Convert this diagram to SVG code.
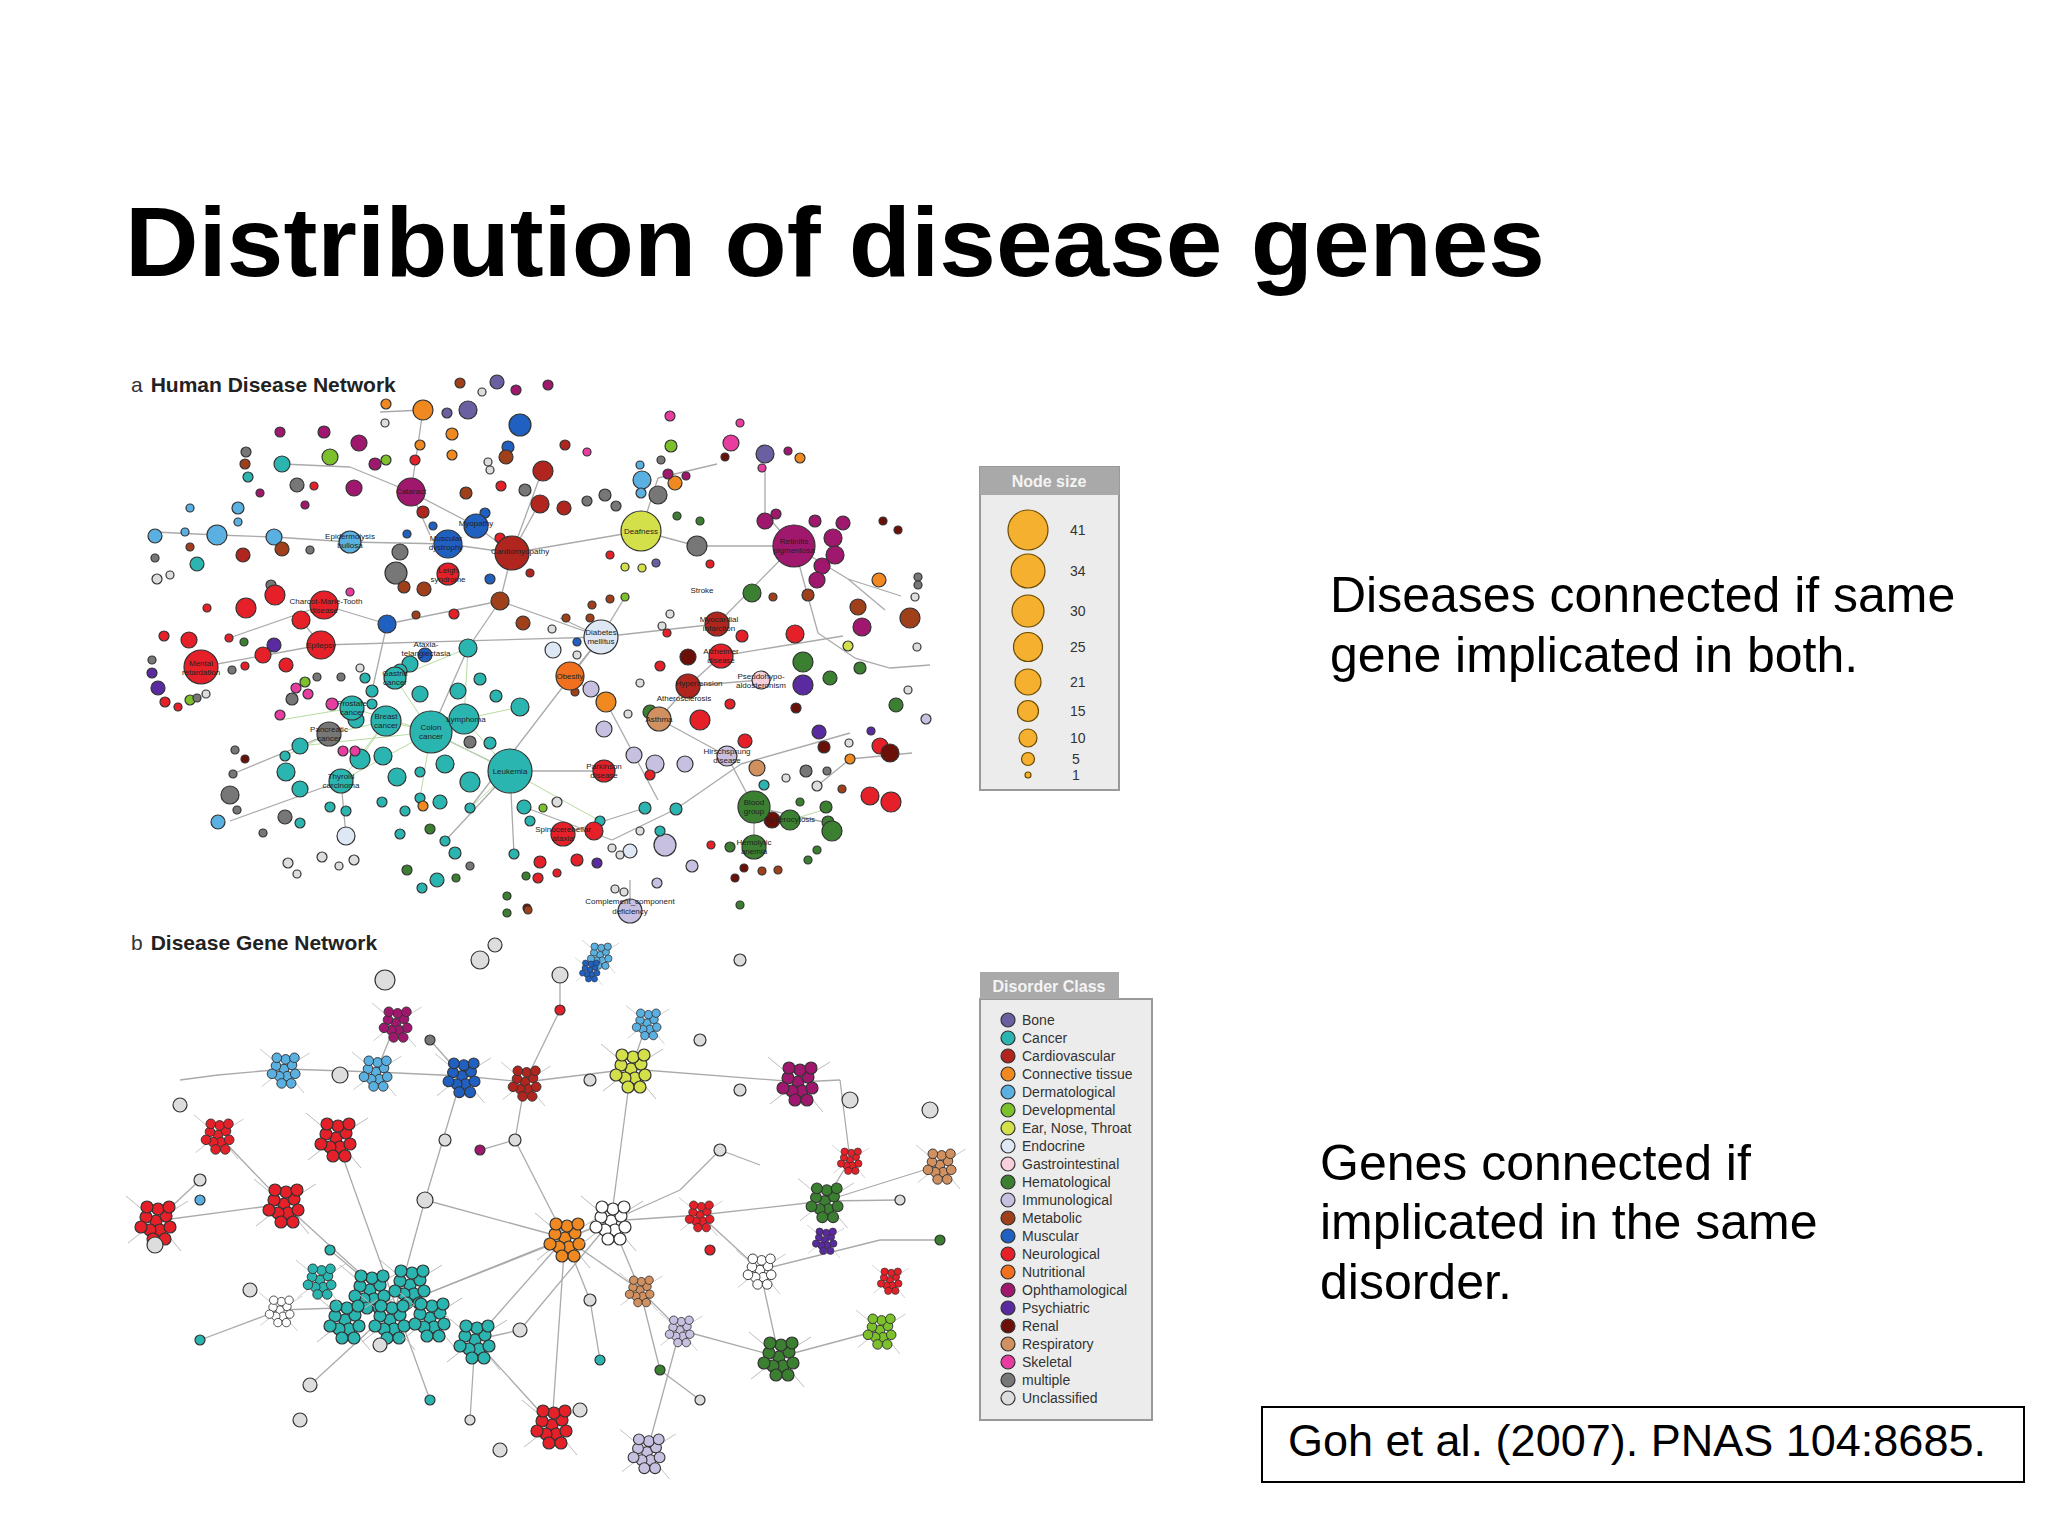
<svg xmlns="http://www.w3.org/2000/svg" xmlns:xlink="http://www.w3.org/1999/xlink" width="2048" height="1536" viewBox="0 0 2048 1536">
<style>
text{font-family:"Liberation Sans",Arial,sans-serif;fill:#000}
circle{stroke:#333;stroke-width:1.2}
.bone{fill:#6a5fa0}.can{fill:#2bb5b0}.cv{fill:#b0261e}.ct{fill:#f08a20}.derm{fill:#5ab0e0}.dev{fill:#7cc02c}.ent{fill:#d4e04a}.endo{fill:#dde8f4}.gi{fill:#f8d0dc}.hem{fill:#3a8030}.imm{fill:#c8c0e0}.met{fill:#a0401a}.mus{fill:#2060c0}.neu{fill:#e52028}.nut{fill:#f07020}.oph{fill:#a0176e}.psy{fill:#5a2aa0}.ren{fill:#6a1008}.resp{fill:#d09060}.skel{fill:#e83ca0}.mult{fill:#777}.unc{fill:#ddd}
.e line{stroke:#aaa;stroke-width:1.3}
.eg line{stroke:#b8dca0;stroke-width:1}
.nl{font-size:8px;fill:#222;text-anchor:middle}
.lg{font-size:14px;fill:#333}
.big{font-size:50px}
.sz{fill:#f5b030;stroke:#6a4a00}
</style>
<defs>
<g id="cl">
<line x1="0" y1="0" x2="-30" y2="-25" stroke="#bbb"/><line x1="0" y1="0" x2="32" y2="-20" stroke="#bbb"/><line x1="0" y1="0" x2="25" y2="30" stroke="#bbb"/><line x1="0" y1="0" x2="-28" y2="22" stroke="#bbb"/>
<circle cx="0" cy="0" r="6" fill="currentColor"/><circle cx="10" cy="-5" r="6" fill="currentColor"/><circle cx="-10" cy="-4" r="6" fill="currentColor"/><circle cx="4" cy="9" r="6" fill="currentColor"/><circle cx="-6" cy="9" r="6" fill="currentColor"/><circle cx="14" cy="6" r="6" fill="currentColor"/><circle cx="-15" cy="6" r="6" fill="currentColor"/><circle cx="2" cy="-12" r="6" fill="currentColor"/><circle cx="-9" cy="-14" r="6" fill="currentColor"/><circle cx="13" cy="-14" r="6" fill="currentColor"/><circle cx="-3" cy="18" r="6" fill="currentColor"/><circle cx="9" cy="18" r="6" fill="currentColor"/>
</g>
</defs>
<rect width="2048" height="1536" fill="#fff"/>
<text x="125" y="276" font-size="98" font-weight="bold" textLength="1420" lengthAdjust="spacingAndGlyphs">Distribution of disease genes</text>

<text x="131" y="392" font-size="21"><tspan fill="#333">a</tspan><tspan dx="8" font-weight="bold" fill="#222">Human Disease Network</tspan></text>
<text x="131" y="950" font-size="21"><tspan fill="#333">b</tspan><tspan dx="8" font-weight="bold" fill="#222">Disease Gene Network</tspan></text>

<g id="connectors-a" class="e">
<line x1="411" y1="492" x2="476" y2="526"/><line x1="476" y1="526" x2="512" y2="553"/><line x1="448" y1="544" x2="512" y2="553"/><line x1="512" y1="553" x2="641" y2="531"/><line x1="641" y1="531" x2="697" y2="546"/><line x1="697" y1="546" x2="794" y2="546"/><line x1="512" y1="553" x2="500" y2="601"/><line x1="500" y1="601" x2="601" y2="637"/><line x1="500" y1="601" x2="387" y2="624"/><line x1="387" y1="624" x2="324" y2="605"/><line x1="321" y1="645" x2="601" y2="637"/><line x1="601" y1="637" x2="717" y2="624"/><line x1="601" y1="637" x2="570" y2="676"/><line x1="717" y1="624" x2="794" y2="546"/><line x1="510" y1="771" x2="431" y2="732"/><line x1="510" y1="771" x2="604" y2="771"/><line x1="500" y1="601" x2="468" y2="648"/><line x1="350" y1="542" x2="448" y2="544"/><line x1="201" y1="667" x2="321" y2="645"/><line x1="721" y1="656" x2="688" y2="686"/><line x1="688" y1="686" x2="659" y2="719"/><line x1="659" y1="719" x2="727" y2="756"/><line x1="727" y1="756" x2="754" y2="807"/><line x1="754" y1="807" x2="790" y2="820"/><line x1="754" y1="807" x2="754" y2="847"/><line x1="563" y1="834" x2="645" y2="808"/><line x1="630" y1="911" x2="630" y2="880"/><line x1="601" y1="637" x2="470" y2="808"/><line x1="570" y1="676" x2="606" y2="702"/><line x1="606" y1="702" x2="658" y2="800"/><line x1="387" y1="624" x2="372" y2="691"/><line x1="794" y1="546" x2="818" y2="633"/><line x1="818" y1="633" x2="855" y2="658"/><line x1="721" y1="656" x2="843" y2="636"/><line x1="741" y1="764" x2="850" y2="733"/><line x1="524" y1="807" x2="612" y2="840"/><line x1="612" y1="840" x2="676" y2="809"/><line x1="676" y1="809" x2="741" y2="764"/><line x1="217" y1="535" x2="274" y2="537"/><line x1="274" y1="537" x2="350" y2="542"/><line x1="155" y1="532" x2="217" y2="535"/><line x1="282" y1="464" x2="350" y2="467"/><line x1="350" y1="467" x2="411" y2="492"/><line x1="380" y1="412" x2="423" y2="410"/><line x1="423" y1="410" x2="411" y2="492"/><line x1="542" y1="471" x2="512" y2="553"/><line x1="641" y1="531" x2="658" y2="478"/><line x1="658" y1="478" x2="717" y2="464"/><line x1="794" y1="546" x2="765" y2="514"/><line x1="765" y1="514" x2="765" y2="470"/><line x1="794" y1="546" x2="848" y2="579"/><line x1="229" y1="638" x2="324" y2="605"/><line x1="301" y1="620" x2="321" y2="645"/><line x1="329" y1="734" x2="230" y2="775"/><line x1="341" y1="781" x2="230" y2="821"/><line x1="341" y1="781" x2="346" y2="836"/><line x1="510" y1="771" x2="514" y2="854"/><line x1="510" y1="771" x2="445" y2="841"/><line x1="431" y1="732" x2="468" y2="648"/><line x1="601" y1="637" x2="560" y2="618"/><line x1="601" y1="637" x2="625" y2="597"/><line x1="688" y1="686" x2="761" y2="680"/><line x1="754" y1="807" x2="824" y2="822"/><line x1="430" y1="535" x2="411" y2="492"/><line x1="512" y1="553" x2="540" y2="502"/><line x1="817" y1="786" x2="850" y2="759"/><line x1="912" y1="753" x2="850" y2="759"/><line x1="885" y1="610" x2="848" y2="579"/><line x1="901" y1="596" x2="848" y2="579"/><line x1="890" y1="668" x2="855" y2="658"/><line x1="930" y1="665" x2="890" y2="668"/>
</g>
<g id="connectors-a-green" class="eg">
<line x1="431" y1="732" x2="386" y2="721"/><line x1="431" y1="732" x2="464" y2="719"/><line x1="431" y1="732" x2="352" y2="708"/><line x1="431" y1="732" x2="395" y2="678"/><line x1="431" y1="732" x2="341" y2="781"/><line x1="431" y1="732" x2="510" y2="771"/><line x1="464" y1="719" x2="510" y2="771"/><line x1="386" y1="721" x2="341" y2="781"/><line x1="386" y1="721" x2="329" y2="734"/><line x1="464" y1="719" x2="468" y2="648"/><line x1="395" y1="678" x2="468" y2="648"/><line x1="329" y1="734" x2="285" y2="756"/><line x1="510" y1="771" x2="470" y2="808"/><line x1="510" y1="771" x2="600" y2="821"/><line x1="431" y1="732" x2="300" y2="746"/><line x1="352" y1="708" x2="280" y2="720"/><line x1="431" y1="732" x2="420" y2="798"/><line x1="386" y1="721" x2="360" y2="759"/><line x1="464" y1="719" x2="520" y2="707"/><line x1="790" y1="820" x2="830" y2="808"/>
</g>

<g id="network-a">
<g id="n-small">
<circle class="met" cx="460" cy="383" r="5"/><circle class="bone" cx="497" cy="382" r="7"/><circle class="oph" cx="516" cy="390" r="5"/><circle class="unc" cx="482" cy="392" r="4"/><circle class="ct" cx="423" cy="410" r="10"/><circle class="bone" cx="468" cy="410" r="9"/><circle class="bone" cx="447" cy="413" r="5"/><circle class="oph" cx="548" cy="385" r="5"/><circle class="ct" cx="386" cy="404" r="5"/><circle class="ct" cx="452" cy="434" r="6"/><circle class="ct" cx="420" cy="445" r="5"/><circle class="ct" cx="452" cy="455" r="5"/><circle class="unc" cx="385" cy="423" r="4"/><circle class="mus" cx="520" cy="425" r="11"/><circle class="mus" cx="508" cy="447" r="6"/><circle class="met" cx="506" cy="457" r="7"/><circle class="unc" cx="488" cy="462" r="4"/><circle class="cv" cx="543" cy="471" r="10"/><circle class="cv" cx="565" cy="445" r="5"/><circle class="skel" cx="587" cy="452" r="4"/><circle class="neu" cx="501" cy="486" r="5"/><circle class="mult" cx="525" cy="490" r="6"/><circle class="cv" cx="540" cy="504" r="9"/><circle class="cv" cx="564" cy="508" r="7"/><circle class="met" cx="466" cy="493" r="6"/><circle class="oph" cx="280" cy="432" r="5"/><circle class="oph" cx="324" cy="432" r="6"/><circle class="oph" cx="359" cy="443" r="8"/><circle class="can" cx="282" cy="464" r="8"/><circle class="dev" cx="330" cy="457" r="8"/><circle class="mult" cx="246" cy="452" r="5"/><circle class="met" cx="245" cy="464" r="5"/><circle class="can" cx="248" cy="477" r="5"/><circle class="oph" cx="375" cy="464" r="6"/><circle class="dev" cx="386" cy="460" r="5"/><circle class="mult" cx="297" cy="485" r="7"/><circle class="oph" cx="354" cy="488" r="8"/><circle class="oph" cx="260" cy="493" r="4"/><circle class="neu" cx="314" cy="486" r="4"/><circle class="oph" cx="305" cy="505" r="4"/><circle class="derm" cx="190" cy="508" r="4"/><circle class="derm" cx="238" cy="508" r="6"/><circle class="derm" cx="217" cy="535" r="10"/><circle class="derm" cx="155" cy="536" r="7"/><circle class="derm" cx="274" cy="537" r="8"/><circle class="derm" cx="238" cy="522" r="4"/><circle class="derm" cx="185" cy="532" r="4"/><circle class="met" cx="190" cy="547" r="4"/><circle class="cv" cx="243" cy="555" r="7"/><circle class="met" cx="282" cy="549" r="7"/><circle class="mult" cx="310" cy="550" r="4"/><circle class="can" cx="197" cy="564" r="7"/><circle class="mult" cx="155" cy="558" r="4"/><circle class="unc" cx="157" cy="579" r="5"/><circle class="unc" cx="170" cy="575" r="4"/><circle class="mult" cx="400" cy="552" r="8"/><circle class="mult" cx="396" cy="573" r="11"/><circle class="met" cx="404" cy="587" r="6"/><circle class="met" cx="424" cy="589" r="7"/><circle class="mus" cx="490" cy="579" r="5"/><circle class="neu" cx="500" cy="538" r="5"/><circle class="cv" cx="530" cy="573" r="4"/><circle class="mult" cx="271" cy="585" r="5"/><circle class="neu" cx="275" cy="595" r="10"/><circle class="neu" cx="246" cy="608" r="10"/><circle class="neu" cx="301" cy="620" r="9"/><circle class="neu" cx="207" cy="608" r="4"/><circle class="skel" cx="350" cy="592" r="4"/><circle class="mus" cx="387" cy="624" r="9"/><circle class="met" cx="500" cy="601" r="9"/><circle class="met" cx="523" cy="623" r="7"/><circle class="neu" cx="454" cy="614" r="5"/><circle class="met" cx="416" cy="615" r="4"/><circle class="neu" cx="164" cy="636" r="5"/><circle class="neu" cx="189" cy="640" r="8"/><circle class="neu" cx="229" cy="638" r="4"/><circle class="hem" cx="244" cy="642" r="4"/><circle class="psy" cx="274" cy="645" r="7"/><circle class="neu" cx="263" cy="655" r="8"/><circle class="neu" cx="286" cy="665" r="7"/><circle class="mult" cx="152" cy="660" r="4"/><circle class="psy" cx="152" cy="673" r="5"/><circle class="psy" cx="158" cy="688" r="7"/><circle class="neu" cx="165" cy="702" r="5"/><circle class="dev" cx="190" cy="700" r="5"/><circle class="mult" cx="197" cy="698" r="4"/><circle class="unc" cx="206" cy="694" r="4"/><circle class="neu" cx="178" cy="707" r="4"/><circle class="mult" cx="232" cy="670" r="4"/><circle class="neu" cx="245" cy="666" r="4"/><circle class="mus" cx="425" cy="655" r="7"/><circle class="can" cx="410" cy="664" r="8"/><circle class="can" cx="365" cy="678" r="5"/><circle class="unc" cx="360" cy="668" r="4"/><circle class="mult" cx="317" cy="677" r="4"/><circle class="mult" cx="341" cy="677" r="4"/><circle class="dev" cx="305" cy="682" r="5"/><circle class="skel" cx="296" cy="688" r="5"/><circle class="skel" cx="308" cy="694" r="5"/><circle class="mult" cx="292" cy="699" r="6"/><circle class="skel" cx="332" cy="704" r="6"/><circle class="skel" cx="280" cy="715" r="5"/><circle class="can" cx="300" cy="746" r="8"/><circle class="can" cx="285" cy="756" r="5"/><circle class="can" cx="286" cy="772" r="9"/><circle class="can" cx="300" cy="789" r="8"/><circle class="mult" cx="235" cy="750" r="4"/><circle class="ren" cx="245" cy="759" r="4"/><circle class="mult" cx="233" cy="774" r="4"/><circle class="mult" cx="230" cy="795" r="9"/><circle class="mult" cx="237" cy="810" r="4"/><circle class="derm" cx="218" cy="822" r="7"/><circle class="can" cx="330" cy="807" r="5"/><circle class="can" cx="346" cy="811" r="5"/><circle class="mult" cx="285" cy="817" r="7"/><circle class="mult" cx="263" cy="833" r="4"/><circle class="can" cx="300" cy="823" r="5"/><circle class="endo" cx="346" cy="836" r="9"/><circle class="unc" cx="288" cy="863" r="5"/><circle class="unc" cx="322" cy="857" r="5"/><circle class="unc" cx="297" cy="874" r="4"/><circle class="unc" cx="339" cy="866" r="4"/><circle class="unc" cx="354" cy="860" r="5"/><circle class="can" cx="400" cy="671" r="7"/><circle class="can" cx="420" cy="694" r="8"/><circle class="can" cx="458" cy="691" r="8"/><circle class="can" cx="480" cy="679" r="6"/><circle class="can" cx="496" cy="696" r="6"/><circle class="can" cx="520" cy="707" r="9"/><circle class="can" cx="383" cy="756" r="9"/><circle class="can" cx="397" cy="777" r="9"/><circle class="can" cx="420" cy="772" r="5"/><circle class="can" cx="445" cy="764" r="9"/><circle class="can" cx="470" cy="782" r="10"/><circle class="mult" cx="470" cy="742" r="6"/><circle class="can" cx="470" cy="808" r="5"/><circle class="can" cx="490" cy="743" r="6"/><circle class="can" cx="420" cy="798" r="5"/><circle class="can" cx="405" cy="811" r="5"/><circle class="can" cx="440" cy="802" r="7"/><circle class="ct" cx="423" cy="806" r="5"/><circle class="can" cx="360" cy="759" r="10"/><circle class="can" cx="356" cy="720" r="8"/><circle class="can" cx="372" cy="704" r="5"/><circle class="can" cx="372" cy="691" r="6"/><circle class="skel" cx="343" cy="751" r="5"/><circle class="skel" cx="355" cy="751" r="5"/><circle class="can" cx="382" cy="802" r="5"/><circle class="hem" cx="430" cy="829" r="5"/><circle class="can" cx="445" cy="841" r="5"/><circle class="can" cx="455" cy="853" r="6"/><circle class="can" cx="400" cy="834" r="5"/><circle class="hem" cx="407" cy="870" r="5"/><circle class="can" cx="422" cy="888" r="5"/><circle class="can" cx="437" cy="880" r="7"/><circle class="hem" cx="456" cy="878" r="4"/><circle class="mult" cx="470" cy="866" r="4"/><circle class="hem" cx="507" cy="896" r="4"/><circle class="ren" cx="527" cy="908" r="4"/><circle class="can" cx="514" cy="854" r="5"/><circle class="can" cx="530" cy="821" r="5"/><circle class="can" cx="524" cy="807" r="7"/><circle class="dev" cx="543" cy="808" r="4"/><circle class="unc" cx="557" cy="802" r="5"/><circle class="can" cx="600" cy="821" r="5"/><circle class="neu" cx="594" cy="831" r="9"/><circle class="neu" cx="540" cy="862" r="6"/><circle class="neu" cx="577" cy="860" r="6"/><circle class="psy" cx="597" cy="863" r="5"/><circle class="neu" cx="538" cy="878" r="5"/><circle class="neu" cx="557" cy="873" r="4"/><circle class="endo" cx="630" cy="851" r="7"/><circle class="imm" cx="665" cy="845" r="11"/><circle class="imm" cx="692" cy="866" r="6"/><circle class="unc" cx="612" cy="848" r="4"/><circle class="unc" cx="620" cy="855" r="4"/><circle class="imm" cx="657" cy="883" r="5"/><circle class="can" cx="645" cy="808" r="6"/><circle class="can" cx="676" cy="809" r="6"/><circle class="can" cx="660" cy="831" r="5"/><circle class="unc" cx="640" cy="831" r="4"/><circle class="hem" cx="650" cy="712" r="7"/><circle class="imm" cx="655" cy="764" r="9"/><circle class="imm" cx="685" cy="764" r="8"/><circle class="imm" cx="634" cy="755" r="8"/><circle class="neu" cx="650" cy="775" r="5"/><circle class="resp" cx="757" cy="768" r="8"/><circle class="neu" cx="745" cy="741" r="7"/><circle class="unc" cx="817" cy="786" r="5"/><circle class="ct" cx="606" cy="702" r="10"/><circle class="imm" cx="604" cy="729" r="8"/><circle class="imm" cx="591" cy="689" r="8"/><circle class="unc" cx="628" cy="714" r="4"/><circle class="neu" cx="700" cy="720" r="10"/><circle class="neu" cx="730" cy="704" r="5"/><circle class="ren" cx="688" cy="657" r="8"/><circle class="neu" cx="660" cy="666" r="5"/><circle class="neu" cx="667" cy="633" r="4"/><circle class="neu" cx="742" cy="636" r="6"/><circle class="unc" cx="662" cy="626" r="4"/><circle class="unc" cx="670" cy="614" r="4"/><circle class="ren" cx="796" cy="708" r="5"/><circle class="unc" cx="640" cy="683" r="4"/><circle class="endo" cx="553" cy="650" r="8"/><circle class="unc" cx="577" cy="655" r="4"/><circle class="met" cx="590" cy="618" r="4"/><circle class="met" cx="566" cy="618" r="4"/><circle class="met" cx="592" cy="605" r="4"/><circle class="dev" cx="625" cy="597" r="4"/><circle class="met" cx="610" cy="599" r="4"/><circle class="unc" cx="552" cy="629" r="4"/><circle class="mus" cx="577" cy="642" r="4"/><circle class="met" cx="575" cy="692" r="4"/><circle class="cv" cx="423" cy="512" r="6"/><circle class="mus" cx="485" cy="513" r="5"/><circle class="mus" cx="433" cy="526" r="4"/><circle class="mus" cx="407" cy="534" r="4"/><circle class="neu" cx="415" cy="460" r="5"/><circle class="unc" cx="490" cy="470" r="4"/><circle class="derm" cx="642" cy="480" r="9"/><circle class="derm" cx="641" cy="493" r="5"/><circle class="mult" cx="605" cy="495" r="6"/><circle class="mult" cx="587" cy="501" r="5"/><circle class="mult" cx="616" cy="506" r="5"/><circle class="mult" cx="658" cy="495" r="9"/><circle class="ct" cx="675" cy="483" r="7"/><circle class="oph" cx="668" cy="474" r="5"/><circle class="oph" cx="686" cy="476" r="4"/><circle class="skel" cx="670" cy="416" r="5"/><circle class="dev" cx="671" cy="446" r="6"/><circle class="mult" cx="661" cy="460" r="4"/><circle class="derm" cx="640" cy="465" r="4"/><circle class="skel" cx="731" cy="443" r="8"/><circle class="bone" cx="765" cy="454" r="9"/><circle class="ct" cx="800" cy="458" r="5"/><circle class="oph" cx="788" cy="451" r="4"/><circle class="skel" cx="762" cy="468" r="4"/><circle class="skel" cx="740" cy="423" r="4"/><circle class="ren" cx="725" cy="457" r="4"/><circle class="mult" cx="697" cy="546" r="10"/><circle class="hem" cx="677" cy="516" r="4"/><circle class="hem" cx="700" cy="521" r="4"/><circle class="neu" cx="710" cy="564" r="4"/><circle class="neu" cx="610" cy="555" r="4"/><circle class="ent" cx="625" cy="567" r="4"/><circle class="ent" cx="642" cy="568" r="4"/><circle class="bone" cx="656" cy="563" r="4"/><circle class="oph" cx="765" cy="521" r="8"/><circle class="oph" cx="776" cy="514" r="5"/><circle class="oph" cx="815" cy="521" r="6"/><circle class="oph" cx="843" cy="523" r="7"/><circle class="oph" cx="833" cy="538" r="9"/><circle class="oph" cx="835" cy="555" r="9"/><circle class="oph" cx="822" cy="566" r="8"/><circle class="oph" cx="817" cy="580" r="8"/><circle class="ren" cx="883" cy="521" r="4"/><circle class="ren" cx="898" cy="530" r="4"/><circle class="hem" cx="752" cy="593" r="9"/><circle class="met" cx="773" cy="597" r="4"/><circle class="ct" cx="879" cy="580" r="7"/><circle class="mult" cx="918" cy="577" r="4"/><circle class="mult" cx="918" cy="585" r="4"/><circle class="unc" cx="915" cy="597" r="4"/><circle class="met" cx="808" cy="595" r="6"/><circle class="met" cx="858" cy="607" r="8"/><circle class="oph" cx="862" cy="627" r="9"/><circle class="met" cx="910" cy="618" r="10"/><circle class="neu" cx="795" cy="634" r="9"/><circle class="hem" cx="803" cy="662" r="10"/><circle class="psy" cx="803" cy="685" r="10"/><circle class="hem" cx="830" cy="678" r="7"/><circle class="hem" cx="860" cy="668" r="6"/><circle class="hem" cx="896" cy="705" r="7"/><circle class="ent" cx="848" cy="646" r="5"/><circle class="unc" cx="917" cy="647" r="4"/><circle class="unc" cx="908" cy="690" r="4"/><circle class="imm" cx="926" cy="719" r="5"/><circle class="psy" cx="819" cy="732" r="7"/><circle class="psy" cx="871" cy="731" r="4"/><circle class="unc" cx="849" cy="743" r="4"/><circle class="neu" cx="880" cy="746" r="8"/><circle class="ren" cx="890" cy="753" r="9"/><circle class="ren" cx="824" cy="747" r="6"/><circle class="mult" cx="806" cy="771" r="6"/><circle class="ct" cx="850" cy="759" r="5"/><circle class="can" cx="764" cy="785" r="5"/><circle class="hem" cx="800" cy="802" r="4"/><circle class="hem" cx="826" cy="807" r="6"/><circle class="hem" cx="828" cy="822" r="6"/><circle class="hem" cx="817" cy="850" r="4"/><circle class="hem" cx="832" cy="831" r="10"/><circle class="ren" cx="772" cy="820" r="8"/><circle class="hem" cx="730" cy="847" r="5"/><circle class="neu" cx="711" cy="845" r="4"/><circle class="ren" cx="744" cy="868" r="4"/><circle class="met" cx="762" cy="871" r="4"/><circle class="ren" cx="735" cy="878" r="4"/><circle class="met" cx="778" cy="870" r="4"/><circle class="hem" cx="808" cy="860" r="4"/><circle class="mult" cx="827" cy="771" r="4"/><circle class="neu" cx="870" cy="796" r="9"/><circle class="neu" cx="891" cy="802" r="10"/><circle class="met" cx="842" cy="789" r="4"/><circle class="unc" cx="786" cy="778" r="4"/><circle class="hem" cx="740" cy="905" r="4"/><circle class="unc" cx="624" cy="892" r="4"/><circle class="unc" cx="615" cy="889" r="4"/><circle class="hem" cx="507" cy="913" r="4"/><circle class="met" cx="528" cy="910" r="4"/><circle class="hem" cx="526" cy="876" r="4"/>
</g>
<g id="n-hubs">
<circle class="oph" cx="411" cy="492" r="14"/><circle class="ent" cx="641" cy="531" r="20"/><circle class="cv" cx="512" cy="553" r="17"/><circle class="mus" cx="448" cy="544" r="14"/><circle class="mus" cx="476" cy="526" r="12"/><circle class="neu" cx="448" cy="574" r="11"/><circle class="derm" cx="350" cy="542" r="11"/><circle class="oph" cx="794" cy="546" r="21"/><circle class="neu" cx="324" cy="605" r="14"/><circle class="neu" cx="321" cy="645" r="14"/><circle class="neu" cx="201" cy="667" r="17"/><circle class="endo" cx="601" cy="637" r="17"/><circle class="nut" cx="570" cy="676" r="14"/><circle class="cv" cx="717" cy="624" r="12"/><circle class="neu" cx="721" cy="656" r="12"/><circle class="cv" cx="688" cy="686" r="12"/><circle class="gi" cx="761" cy="680" r="9"/><circle class="resp" cx="659" cy="719" r="12"/><circle class="can" cx="395" cy="678" r="11"/><circle class="can" cx="352" cy="708" r="12"/><circle class="can" cx="386" cy="721" r="15"/><circle class="can" cx="431" cy="732" r="21"/><circle class="can" cx="464" cy="719" r="15"/><circle class="mult" cx="329" cy="734" r="12"/><circle class="can" cx="510" cy="771" r="22"/><circle class="can" cx="341" cy="781" r="12"/><circle class="neu" cx="604" cy="771" r="11"/><circle class="imm" cx="727" cy="756" r="10"/><circle class="hem" cx="754" cy="807" r="16"/><circle class="hem" cx="790" cy="820" r="10"/><circle class="hem" cx="754" cy="847" r="12"/><circle class="neu" cx="563" cy="834" r="12"/><circle class="imm" cx="630" cy="911" r="12"/><circle class="can" cx="468" cy="648" r="9"/>
</g>
<g id="n-labels">
<text class="nl" x="411" y="494">Cataract</text><text class="nl" x="641" y="534">Deafness</text><text class="nl" x="520" y="554">Cardiomyopathy</text><text class="nl" x="446" y="541">Muscular</text><text class="nl" x="446" y="550">dystrophy</text><text class="nl" x="476" y="526">Myopathy</text><text class="nl" x="448" y="573">Leigh</text><text class="nl" x="448" y="582">syndrome</text><text class="nl" x="350" y="539">Epidermolysis</text><text class="nl" x="350" y="548">bullosa</text><text class="nl" x="794" y="544">Retinitis</text><text class="nl" x="794" y="553">pigmentosa</text><text class="nl" x="326" y="604">Charcot-Marie-Tooth</text><text class="nl" x="324" y="613">disease</text><text class="nl" x="321" y="648">Epilepsy</text><text class="nl" x="201" y="666">Mental</text><text class="nl" x="201" y="675">retardation</text><text class="nl" x="601" y="635">Diabetes</text><text class="nl" x="601" y="644">mellitus</text><text class="nl" x="570" y="679">Obesity</text><text class="nl" x="719" y="622">Myocardial</text><text class="nl" x="719" y="631">infarction</text><text class="nl" x="721" y="654">Alzheimer</text><text class="nl" x="721" y="663">disease</text><text class="nl" x="699" y="686">Hypertension</text><text class="nl" x="684" y="701">Atherosclerosis</text><text class="nl" x="761" y="679">Pseudohypo-</text><text class="nl" x="761" y="688">aldosteronism</text><text class="nl" x="659" y="722">Asthma</text><text class="nl" x="702" y="593">Stroke</text><text class="nl" x="395" y="676">Gastric</text><text class="nl" x="395" y="685">cancer</text><text class="nl" x="426" y="647">Ataxia-</text><text class="nl" x="426" y="656">telangiectasia</text><text class="nl" x="352" y="706">Prostate</text><text class="nl" x="352" y="715">cancer</text><text class="nl" x="386" y="719">Breast</text><text class="nl" x="386" y="728">cancer</text><text class="nl" x="431" y="730">Colon</text><text class="nl" x="431" y="739">cancer</text><text class="nl" x="466" y="722">Lymphoma</text><text class="nl" x="329" y="732">Pancreatic</text><text class="nl" x="329" y="741">cancer</text><text class="nl" x="510" y="774">Leukemia</text><text class="nl" x="341" y="779">Thyroid</text><text class="nl" x="341" y="788">carcinoma</text><text class="nl" x="604" y="769">Parkinson</text><text class="nl" x="604" y="778">disease</text><text class="nl" x="727" y="754">Hirschsprung</text><text class="nl" x="727" y="763">disease</text><text class="nl" x="754" y="805">Blood</text><text class="nl" x="754" y="814">group</text><text class="nl" x="790" y="822">Spherocytosis</text><text class="nl" x="754" y="845">Hemolytic</text><text class="nl" x="754" y="854">anemia</text><text class="nl" x="563" y="832">Spinocerebellar</text><text class="nl" x="563" y="841">ataxia</text><text class="nl" x="630" y="904">Complement_component</text><text class="nl" x="630" y="914">deficiency</text>
</g>
</g>

<g id="connectors-b" class="e">
<line x1="396" y1="1306" x2="565" y2="1238"/><line x1="396" y1="1306" x2="611" y2="1221"/><line x1="475" y1="1340" x2="565" y2="1238"/><line x1="565" y1="1238" x2="611" y2="1221"/><line x1="611" y1="1221" x2="700" y2="1215"/><line x1="700" y1="1215" x2="825" y2="1201"/><line x1="611" y1="1221" x2="631" y2="1069"/><line x1="631" y1="1069" x2="798" y2="1082"/><line x1="631" y1="1069" x2="525" y2="1082"/><line x1="525" y1="1082" x2="462" y2="1076"/><line x1="462" y1="1076" x2="376" y2="1072"/><line x1="376" y1="1072" x2="284" y2="1069"/><line x1="525" y1="1082" x2="515" y2="1140"/><line x1="515" y1="1140" x2="565" y2="1238"/><line x1="396" y1="1306" x2="284" y2="1204"/><line x1="284" y1="1204" x2="156" y2="1221"/><line x1="336" y1="1138" x2="396" y2="1306"/><line x1="218" y1="1135" x2="284" y2="1204"/><line x1="396" y1="1306" x2="280" y2="1310"/><line x1="280" y1="1310" x2="200" y2="1340"/><line x1="396" y1="1306" x2="310" y2="1385"/><line x1="475" y1="1340" x2="552" y2="1425"/><line x1="565" y1="1238" x2="552" y2="1425"/><line x1="611" y1="1221" x2="640" y2="1290"/><line x1="640" y1="1290" x2="680" y2="1330"/><line x1="680" y1="1330" x2="779" y2="1357"/><line x1="680" y1="1330" x2="647" y2="1452"/><line x1="700" y1="1215" x2="760" y2="1270"/><line x1="760" y1="1270" x2="880" y2="1240"/><line x1="825" y1="1201" x2="940" y2="1165"/><line x1="760" y1="1270" x2="779" y2="1357"/><line x1="779" y1="1357" x2="880" y2="1330"/><line x1="396" y1="1306" x2="430" y2="1400"/><line x1="475" y1="1340" x2="520" y2="1330"/><line x1="520" y1="1330" x2="611" y2="1221"/><line x1="425" y1="1200" x2="565" y2="1238"/><line x1="425" y1="1200" x2="396" y2="1306"/><line x1="425" y1="1200" x2="462" y2="1076"/><line x1="396" y1="1023" x2="376" y2="1072"/><line x1="647" y1="1023" x2="631" y2="1069"/><line x1="798" y1="1082" x2="840" y2="1080"/><line x1="840" y1="1080" x2="850" y2="1160"/><line x1="850" y1="1160" x2="825" y2="1201"/><line x1="611" y1="1221" x2="680" y2="1190"/><line x1="680" y1="1190" x2="720" y2="1150"/><line x1="720" y1="1150" x2="760" y2="1165"/><line x1="565" y1="1238" x2="640" y2="1290"/><line x1="156" y1="1221" x2="200" y2="1180"/><line x1="515" y1="1140" x2="480" y2="1150"/><line x1="640" y1="1290" x2="660" y2="1370"/><line x1="660" y1="1370" x2="700" y2="1400"/><line x1="565" y1="1238" x2="590" y2="1300"/><line x1="590" y1="1300" x2="600" y2="1360"/><line x1="525" y1="1082" x2="560" y2="1010"/><line x1="560" y1="1010" x2="560" y2="975"/><line x1="462" y1="1076" x2="430" y2="1040"/><line x1="218" y1="1075" x2="284" y2="1069"/><line x1="180" y1="1080" x2="218" y2="1075"/><line x1="880" y1="1240" x2="940" y2="1240"/><line x1="825" y1="1201" x2="900" y2="1200"/><line x1="396" y1="1306" x2="330" y2="1250"/><line x1="475" y1="1340" x2="470" y2="1420"/>
</g>

<g id="network-b">
<use href="#cl" color="#2bb5b0" transform="translate(370,1290)"/>
<use href="#cl" color="#2bb5b0" transform="translate(410,1285)"/>
<use href="#cl" color="#2bb5b0" transform="translate(390,1320)"/>
<use href="#cl" color="#2bb5b0" transform="translate(430,1318)"/>
<use href="#cl" color="#2bb5b0" transform="translate(345,1320)"/>
<use href="#cl" color="#2bb5b0" transform="translate(475,1340)"/>
<use href="#cl" color="#2bb5b0" transform="translate(320,1280) scale(0.8)"/>
<use href="#cl" color="#f08a20" transform="translate(565,1238)"/>
<use href="#cl" color="#ffffff" transform="translate(611,1221)"/>
<use href="#cl" color="#d4e04a" transform="translate(631,1069)"/>
<use href="#cl" color="#a0176e" transform="translate(798,1082)"/>
<use href="#cl" color="#e52028" transform="translate(284,1204)"/>
<use href="#cl" color="#e52028" transform="translate(336,1138)"/>
<use href="#cl" color="#e52028" transform="translate(156,1221)"/>
<use href="#cl" color="#e52028" transform="translate(218,1135) scale(0.8)"/>
<use href="#cl" color="#e52028" transform="translate(552,1425)"/>
<use href="#cl" color="#b0261e" transform="translate(525,1082) scale(0.8)"/>
<use href="#cl" color="#2060c0" transform="translate(462,1076) scale(0.9)"/>
<use href="#cl" color="#5ab0e0" transform="translate(376,1072) scale(0.8)"/>
<use href="#cl" color="#5ab0e0" transform="translate(284,1069) scale(0.8)"/>
<use href="#cl" color="#3a8030" transform="translate(779,1357)"/>
<use href="#cl" color="#3a8030" transform="translate(825,1201) scale(0.9)"/>
<use href="#cl" color="#7cc02c" transform="translate(880,1330) scale(0.8)"/>
<use href="#cl" color="#c8c0e0" transform="translate(647,1452) scale(0.9)"/>
<use href="#cl" color="#c8c0e0" transform="translate(680,1330) scale(0.7)"/>
<use href="#cl" color="#a0176e" transform="translate(396,1023) scale(0.8)"/>
<use href="#cl" color="#5ab0e0" transform="translate(647,1023) scale(0.7)"/>
<use href="#cl" color="#d09060" transform="translate(940,1165) scale(0.8)"/>
<use href="#cl" color="#5a2aa0" transform="translate(825,1240) scale(0.6)"/>
<use href="#cl" color="#ffffff" transform="translate(760,1270) scale(0.8)"/>
<use href="#cl" color="#d09060" transform="translate(640,1290) scale(0.7)"/>
<use href="#cl" color="#e52028" transform="translate(700,1215) scale(0.7)"/>
<use href="#cl" color="#ffffff" transform="translate(280,1310) scale(0.7)"/>
<use href="#cl" color="#5ab0e0" transform="translate(600,955) scale(0.6)"/>
<use href="#cl" color="#2060c0" transform="translate(590,970) scale(0.5)"/>
<use href="#cl" color="#e52028" transform="translate(850,1160) scale(0.6)"/>
<use href="#cl" color="#e52028" transform="translate(890,1280) scale(0.6)"/>
<circle class="unc" cx="425" cy="1200" r="8"/><circle class="unc" cx="515" cy="1140" r="6"/><circle class="unc" cx="560" cy="975" r="8"/><circle class="unc" cx="480" cy="960" r="9"/><circle class="unc" cx="495" cy="945" r="7"/><circle class="unc" cx="385" cy="980" r="10"/><circle class="unc" cx="340" cy="1075" r="8"/><circle class="unc" cx="200" cy="1180" r="6"/><circle class="unc" cx="310" cy="1385" r="7"/><circle class="unc" cx="470" cy="1420" r="5"/><circle class="unc" cx="520" cy="1330" r="7"/><circle class="unc" cx="590" cy="1300" r="6"/><circle class="unc" cx="700" cy="1400" r="5"/><circle class="unc" cx="720" cy="1150" r="6"/><circle class="unc" cx="900" cy="1200" r="5"/><circle class="unc" cx="850" cy="1100" r="8"/><circle class="unc" cx="930" cy="1110" r="8"/><circle class="unc" cx="580" cy="1410" r="7"/><circle class="unc" cx="500" cy="1450" r="7"/><circle class="unc" cx="180" cy="1105" r="7"/><circle class="unc" cx="155" cy="1245" r="8"/><circle class="unc" cx="250" cy="1290" r="7"/><circle class="unc" cx="300" cy="1420" r="7"/><circle class="unc" cx="445" cy="1140" r="6"/><circle class="unc" cx="740" cy="960" r="6"/><circle class="unc" cx="380" cy="1345" r="7"/><circle class="unc" cx="700" cy="1040" r="6"/><circle class="unc" cx="740" cy="1090" r="6"/><circle class="unc" cx="590" cy="1080" r="6"/><circle class="neu" cx="710" cy="1250" r="5"/><circle class="derm" cx="200" cy="1200" r="5"/><circle class="can" cx="200" cy="1340" r="5"/><circle class="can" cx="430" cy="1400" r="5"/><circle class="can" cx="330" cy="1250" r="5"/><circle class="hem" cx="940" cy="1240" r="5"/><circle class="neu" cx="560" cy="1010" r="5"/><circle class="mult" cx="430" cy="1040" r="5"/><circle class="oph" cx="480" cy="1150" r="5"/><circle class="hem" cx="660" cy="1370" r="5"/><circle class="can" cx="600" cy="1360" r="5"/>
</g>

<g id="legend-size">
<rect x="980" y="467" width="139" height="323" fill="#ececec" stroke="#999" stroke-width="2"/>
<rect x="980" y="467" width="139" height="28" fill="#a9a9a9"/>
<text x="1049" y="487" font-size="16" font-weight="bold" text-anchor="middle" style="fill:#f4f4f4">Node size</text>
<circle class="sz" cx="1028" cy="530" r="20"/><circle class="sz" cx="1028" cy="571" r="17"/><circle class="sz" cx="1028" cy="611" r="16"/><circle class="sz" cx="1028" cy="647" r="14.5"/><circle class="sz" cx="1028" cy="682" r="13"/><circle class="sz" cx="1028" cy="711" r="10.5"/><circle class="sz" cx="1028" cy="738" r="9"/><circle class="sz" cx="1028" cy="759" r="6.5"/><circle class="sz" cx="1028" cy="775" r="3"/>
<text class="lg" x="1070" y="535">41</text><text class="lg" x="1070" y="576">34</text><text class="lg" x="1070" y="616">30</text><text class="lg" x="1070" y="652">25</text><text class="lg" x="1070" y="687">21</text><text class="lg" x="1070" y="716">15</text><text class="lg" x="1070" y="743">10</text><text class="lg" x="1072" y="764">5</text><text class="lg" x="1072" y="780">1</text>
</g>

<g id="legend-class">
<rect x="980" y="999" width="172" height="421" fill="#ececec" stroke="#999" stroke-width="2"/>
<rect x="980" y="972" width="139" height="27" fill="#a9a9a9"/>
<text x="1049" y="992" font-size="16" font-weight="bold" text-anchor="middle" style="fill:#f4f4f4">Disorder Class</text>
<circle class="bone" cx="1008" cy="1020" r="7"/><text class="lg" x="1022" y="1025">Bone</text>
<circle class="can" cx="1008" cy="1038" r="7"/><text class="lg" x="1022" y="1043">Cancer</text>
<circle class="cv" cx="1008" cy="1056" r="7"/><text class="lg" x="1022" y="1061">Cardiovascular</text>
<circle class="ct" cx="1008" cy="1074" r="7"/><text class="lg" x="1022" y="1079">Connective tissue</text>
<circle class="derm" cx="1008" cy="1092" r="7"/><text class="lg" x="1022" y="1097">Dermatological</text>
<circle class="dev" cx="1008" cy="1110" r="7"/><text class="lg" x="1022" y="1115">Developmental</text>
<circle class="ent" cx="1008" cy="1128" r="7"/><text class="lg" x="1022" y="1133">Ear, Nose, Throat</text>
<circle class="endo" cx="1008" cy="1146" r="7"/><text class="lg" x="1022" y="1151">Endocrine</text>
<circle class="gi" cx="1008" cy="1164" r="7"/><text class="lg" x="1022" y="1169">Gastrointestinal</text>
<circle class="hem" cx="1008" cy="1182" r="7"/><text class="lg" x="1022" y="1187">Hematological</text>
<circle class="imm" cx="1008" cy="1200" r="7"/><text class="lg" x="1022" y="1205">Immunological</text>
<circle class="met" cx="1008" cy="1218" r="7"/><text class="lg" x="1022" y="1223">Metabolic</text>
<circle class="mus" cx="1008" cy="1236" r="7"/><text class="lg" x="1022" y="1241">Muscular</text>
<circle class="neu" cx="1008" cy="1254" r="7"/><text class="lg" x="1022" y="1259">Neurological</text>
<circle class="nut" cx="1008" cy="1272" r="7"/><text class="lg" x="1022" y="1277">Nutritional</text>
<circle class="oph" cx="1008" cy="1290" r="7"/><text class="lg" x="1022" y="1295">Ophthamological</text>
<circle class="psy" cx="1008" cy="1308" r="7"/><text class="lg" x="1022" y="1313">Psychiatric</text>
<circle class="ren" cx="1008" cy="1326" r="7"/><text class="lg" x="1022" y="1331">Renal</text>
<circle class="resp" cx="1008" cy="1344" r="7"/><text class="lg" x="1022" y="1349">Respiratory</text>
<circle class="skel" cx="1008" cy="1362" r="7"/><text class="lg" x="1022" y="1367">Skeletal</text>
<circle class="mult" cx="1008" cy="1380" r="7"/><text class="lg" x="1022" y="1385">multiple</text>
<circle class="unc" cx="1008" cy="1398" r="7"/><text class="lg" x="1022" y="1403">Unclassified</text>
</g>

<g id="notes">
<text class="big" x="1330" y="612">Diseases connected if same</text>
<text class="big" x="1330" y="672">gene implicated in both.</text>
<text class="big" x="1320" y="1180">Genes connected if</text>
<text class="big" x="1320" y="1239">implicated in the same</text>
<text class="big" x="1320" y="1299">disorder.</text>
<rect x="1262" y="1407" width="762" height="75" fill="none" stroke="#000" stroke-width="2"/>
<text x="1288" y="1456" font-size="45">Goh et al. (2007). PNAS 104:8685.</text>
</g>
</svg>
